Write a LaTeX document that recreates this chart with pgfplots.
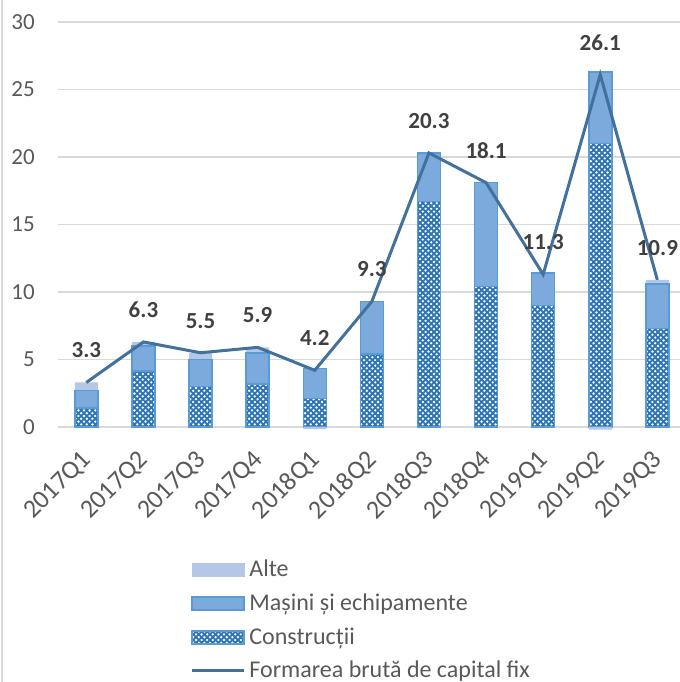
\documentclass[border=0pt]{standalone}
\usepackage{pgfplots}
\pgfplotsset{compat=1.18}
\usepackage{pgfplotstable}
\usepackage{fontspec}
\setmainfont{Carlito}
\usetikzlibrary{patterns}

\definecolor{linec}{RGB}{65,113,156}
\definecolor{masc}{RGB}{125,170,220}
\definecolor{altc}{RGB}{180,199,231}
\definecolor{bord}{RGB}{91,155,213}
\definecolor{patc}{RGB}{46,117,182}
\definecolor{gridc}{RGB}{217,217,217}
\definecolor{txt}{RGB}{89,89,89}
\definecolor{lbl}{RGB}{64,64,64}

\pgfdeclarepatternformonly{diamonds}{\pgfqpoint{-0.5pt}{-0.5pt}}{\pgfqpoint{3.3pt}{3.3pt}}{\pgfqpoint{2.8pt}{2.8pt}}{%
  \pgfsetlinewidth{0.9pt}%
  \pgfpathmoveto{\pgfqpoint{-0.5pt}{-0.5pt}}\pgfpathlineto{\pgfqpoint{3.3pt}{3.3pt}}%
  \pgfpathmoveto{\pgfqpoint{-0.5pt}{3.3pt}}\pgfpathlineto{\pgfqpoint{3.3pt}{-0.5pt}}%
  \pgfusepath{stroke}}

% x: category index; c: Constructii; m: Masini si echipamente; a: Alte (positive part); t: total
\pgfplotstableread{
x c m a t
0 1.4 1.3 0.6 3.3
1 4.15 1.85 0.3 6.3
2 3.0 2.0 0.5 5.5
3 3.2 2.3 0.4 5.9
4 2.1 2.25 0.0 4.2
5 5.4 3.9 0.0 9.3
6 16.7 3.6 0.0 20.3
7 10.4 7.7 0.0 18.1
8 9.0 2.4 0.0 11.3
9 21.0 5.3 0.0 26.1
10 7.3 3.3 0.3 10.9
}\data

% negative part of Alte
\pgfplotstableread{
x a
4 -0.15
9 -0.2
}\neg

\pgfplotsset{
  common/.style={
    at={(0,0)}, anchor=south west,
    scale only axis, width=311.2pt, height=202.5pt,
    xmin=-0.5, xmax=10.40, ymin=0, ymax=30,
    clip=false,
  },
}

\begin{document}
\begin{tikzpicture}
\path[use as bounding box] (-28.9pt,-127.5pt) rectangle (311.1pt,213.5pt);
\draw[gridc, line width=1pt] (-27.9pt,-127.5pt) -- (-27.9pt,213.5pt);

\begin{axis}[common,
  ybar stacked, bar width=11.5pt,
  axis line style={draw=none},
  major tick length=0pt,
  ytick={0,5,...,30},
  ymajorgrids, grid style={gridc, line width=0.75pt},
  xtick={0,...,10},
  xticklabels={2017Q1,2017Q2,2017Q3,2017Q4,2018Q1,2018Q2,2018Q3,2018Q4,2019Q1,2019Q2,2019Q3},
  /pgf/number format/assume math mode=true,
  tick label style={font=\fontsize{11.5}{13}\selectfont, text=txt},
  yticklabel style={xshift=-8pt},
  xticklabel style={font=\fontsize{13}{15}\selectfont, xshift=3pt, yshift=-12pt, rotate=45, anchor=east},
]
\addplot[pattern=diamonds, pattern color=patc, draw=bord, line width=0.75pt] table[x=x,y=c]{\data};
\addplot[fill=masc, draw=bord, line width=0.75pt] table[x=x,y=m]{\data};
\addplot[fill=altc, draw=none] table[x=x,y=a]{\data};
\end{axis}

\begin{axis}[common, hide axis, ybar, bar width=11.5pt]
\addplot[fill=altc, draw=none, bar shift=0pt] table[x=x,y=a]{\neg};
\end{axis}

\begin{axis}[common, hide axis,
  legend style={at={(0.2125,-0.318)}, anchor=north west, draw=none, fill=none,
    font=\fontsize{12}{14}\selectfont, text=txt, row sep=3pt,
    cells={anchor=west}, inner sep=0pt},
  legend cell align=left,
]
\addplot[linec, line width=1.5pt, mark=none, forget plot] table[x=x,y=t]{\data};
\addplot[draw=none, mark=none, forget plot,
  nodes near coords={\pgfmathprintnumber[fixed,fixed zerofill,precision=1,assume math mode=true]{\pgfplotspointmeta}},
  point meta=y,
  every node near coord/.append style={font=\bfseries\fontsize{11.5}{13}\selectfont, text=lbl, anchor=center, yshift=16pt}]
  table[x=x,y=t]{\data};
\addlegendimage{legend image code/.code={\fill[altc] (0pt,-3.25pt) rectangle (26pt,3.25pt);}}
\addlegendentry{Alte}
\addlegendimage{legend image code/.code={\draw[fill=masc, draw=bord, line width=0.75pt] (0pt,-3.25pt) rectangle (26pt,3.25pt);}}
\addlegendentry{Mașini și echipamente}
\addlegendimage{legend image code/.code={\draw[pattern=diamonds, pattern color=patc, draw=bord, line width=0.75pt] (0pt,-3.25pt) rectangle (26pt,3.25pt);}}
\addlegendentry{Construcții}
\addlegendimage{legend image code/.code={\draw[linec, line width=1.5pt] (0pt,0pt) -- (26pt,0pt);}}
\addlegendentry{Formarea brută de capital fix}
\end{axis}
\end{tikzpicture}
\end{document}
